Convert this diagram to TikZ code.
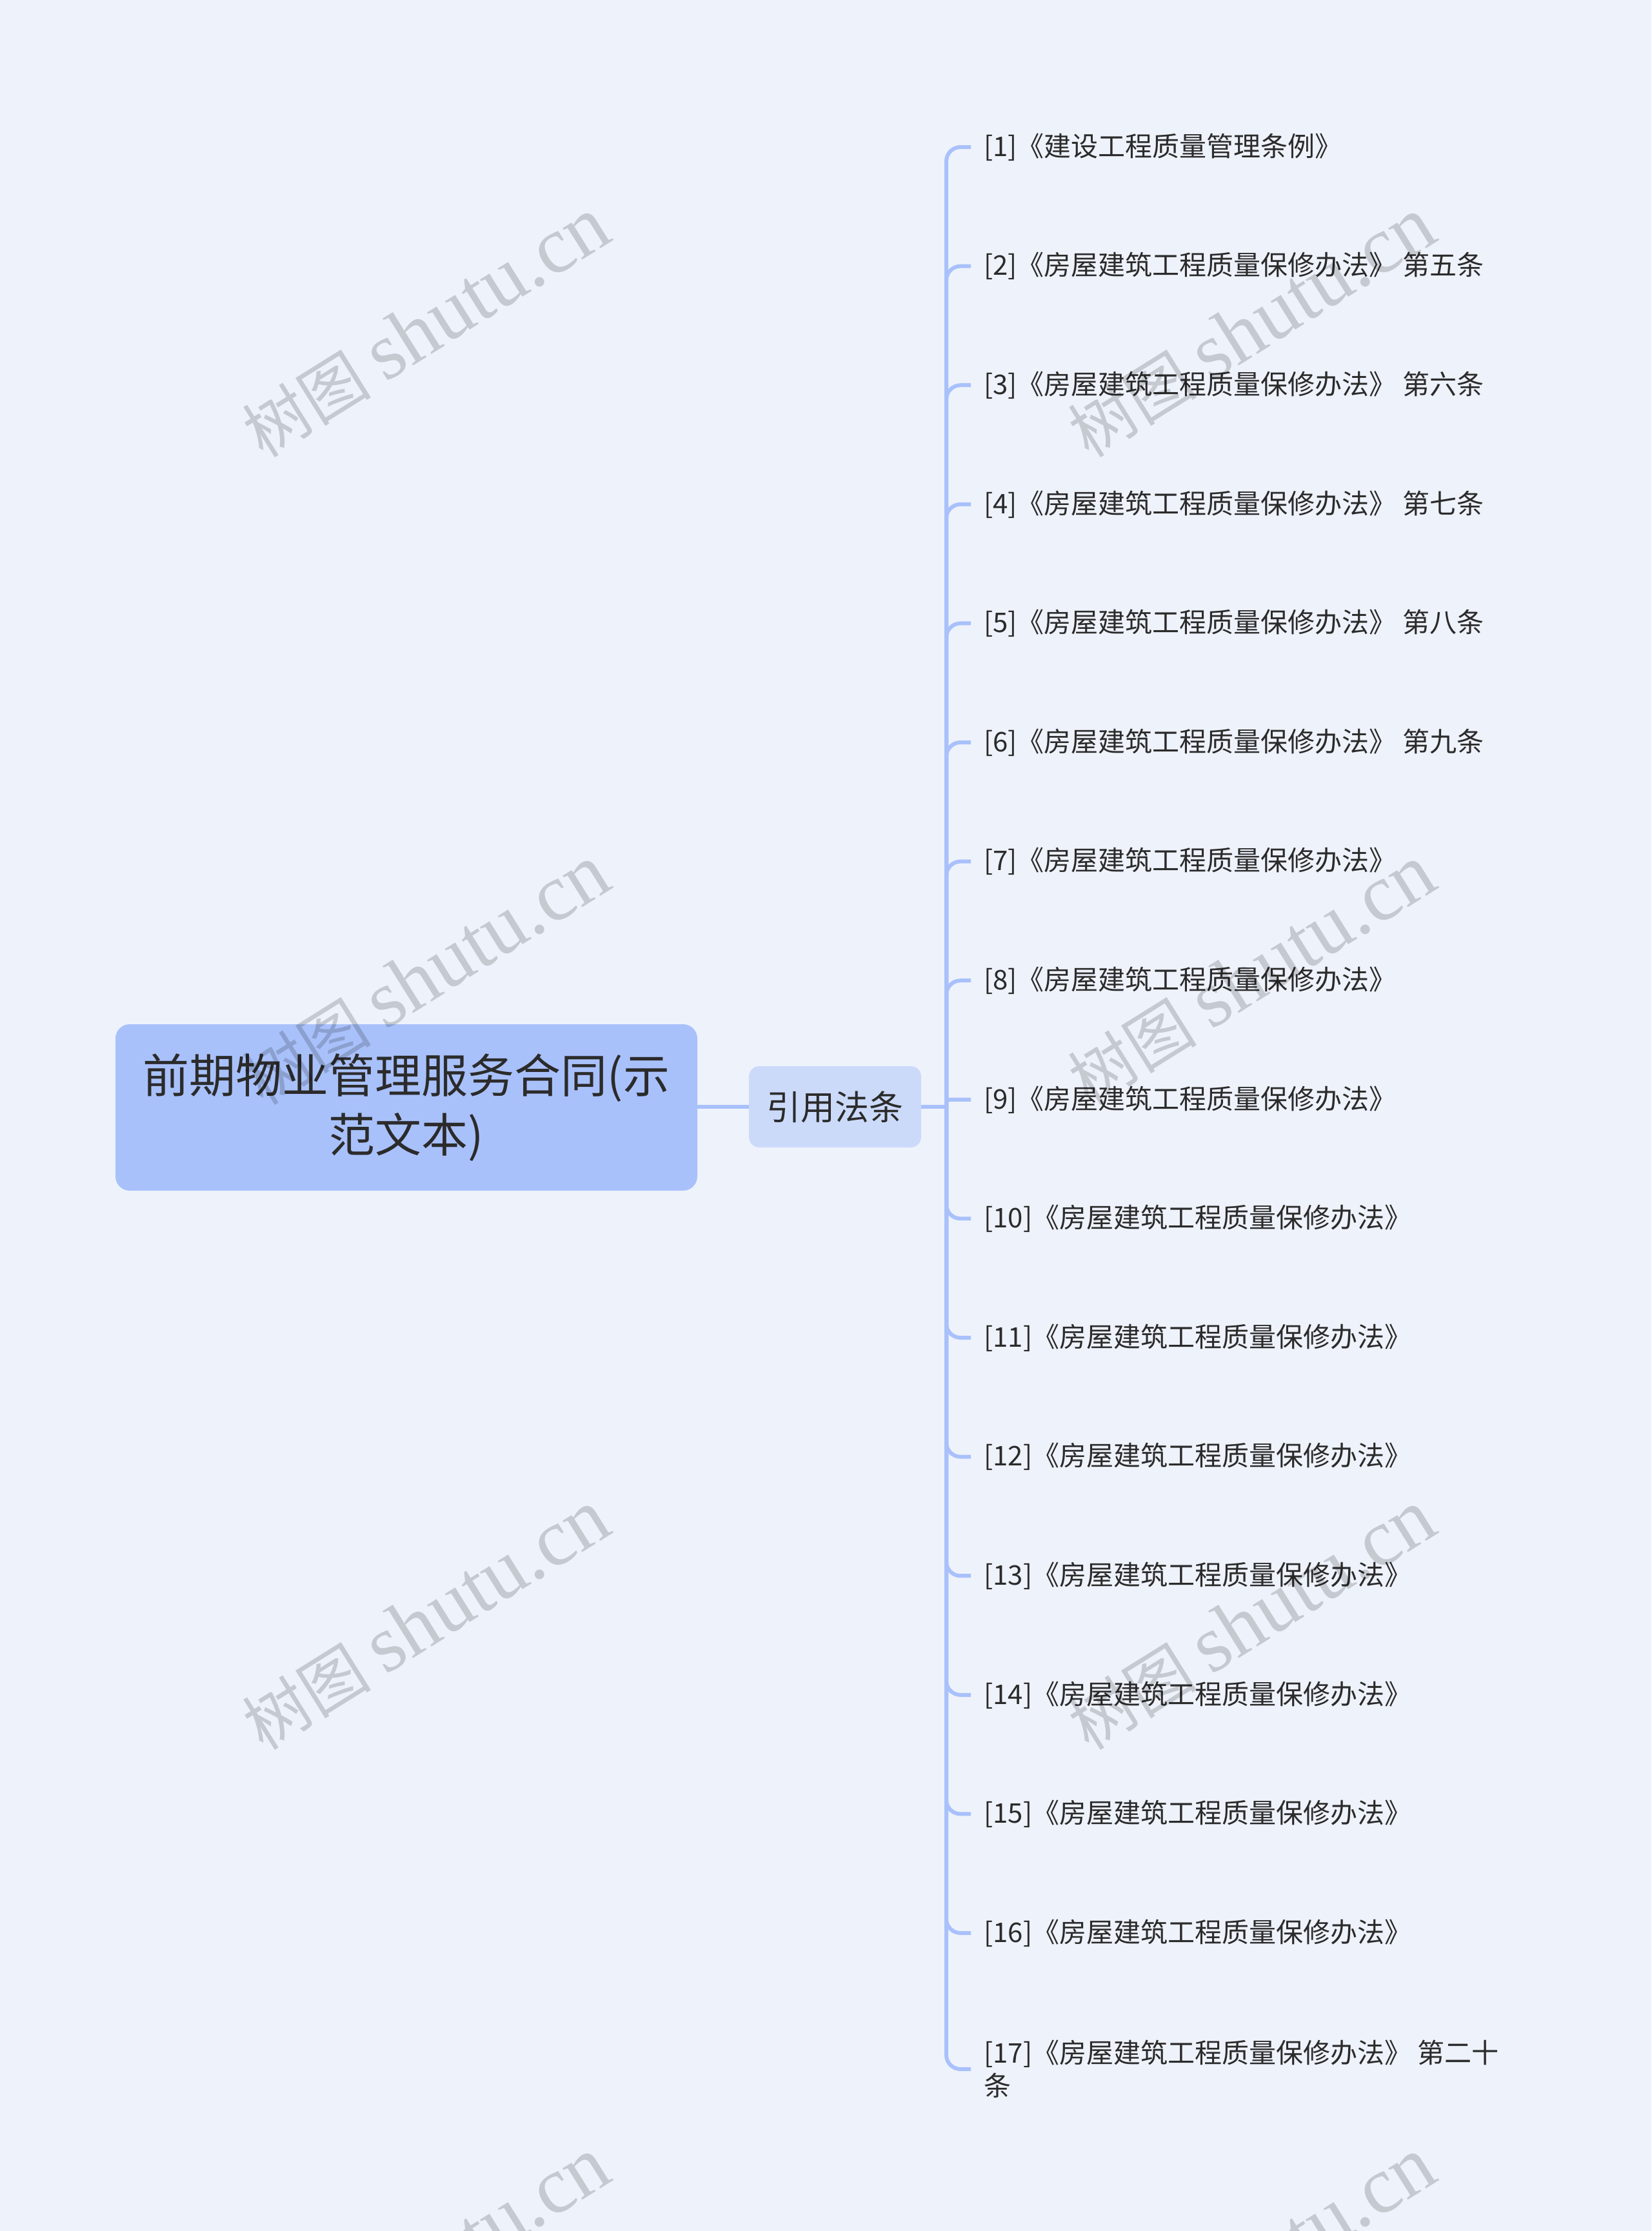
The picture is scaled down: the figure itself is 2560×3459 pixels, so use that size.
\documentclass[tikz,border=0pt]{standalone}
\usepackage{fontspec}
\setmainfont{Noto Sans CJK SC}
\newfontfamily\wmfont{Liberation Serif}
\usetikzlibrary{calc}
\definecolor{bg}{HTML}{EEF2FB}
\definecolor{rootc}{HTML}{A9C1FB}
\definecolor{midc}{HTML}{CCDAFA}
\definecolor{linec}{HTML}{A9C1FB}
\definecolor{txt}{HTML}{2B2B2B}
\begin{document}
\begin{tikzpicture}[x=1pt,y=-1pt,
  conn/.style={draw=linec,line width=6pt,rounded corners=22pt},
  connsmall/.style={draw=linec,line width=6pt,rounded corners=5pt},
  rootbox/.style={fill=rootc,rounded corners=22pt,inner sep=0pt,text=txt,align=center,
    minimum width=902pt,minimum height=258pt,font=\fontsize{72}{92}\selectfont},
  midbox/.style={fill=midc,rounded corners=16pt,inner sep=0pt,text=txt,align=center,
    minimum width=267pt,minimum height=126pt,font=\fontsize{53}{60}\selectfont},
  leaf/.style={anchor=west,inner xsep=20pt,inner ysep=4pt,text=txt,align=left,
    font=\fontsize{42}{51}\selectfont},
  wm/.style={rotate=32,text=black,text opacity=0.17,inner sep=0pt,
    font=\fontsize{100}{100}\selectfont}
]
\fill[bg] (0,0) rectangle (2560,3459);
\useasboundingbox (0,0) rectangle (2560,3459);

\node[rootbox] (root) at (630,1717) {前期物业管理服务合同(示\\范文本)};
\node[midbox] (mid) at (1294.5,1716) {引用法条};
\coordinate (jn) at (1467,1716);

\draw[conn] (root.east |- mid.west) -- (mid.west);
\draw[conn] (mid.east) -- (jn);

\node[leaf] (l1) at (1505,228) {[1]《建设工程质量管理条例》};
\node[leaf] (l2) at (1505,412.6) {[2]《房屋建筑工程质量保修办法》 第五条};
\node[leaf] (l3) at (1505,597.2) {[3]《房屋建筑工程质量保修办法》 第六条};
\node[leaf] (l4) at (1505,781.8) {[4]《房屋建筑工程质量保修办法》 第七条};
\node[leaf] (l5) at (1505,966.4) {[5]《房屋建筑工程质量保修办法》 第八条};
\node[leaf] (l6) at (1505,1151) {[6]《房屋建筑工程质量保修办法》 第九条};
\node[leaf] (l7) at (1505,1335.6) {[7]《房屋建筑工程质量保修办法》};
\node[leaf] (l8) at (1505,1520.2) {[8]《房屋建筑工程质量保修办法》};
\node[leaf] (l9) at (1505,1704.8) {[9]《房屋建筑工程质量保修办法》};
\node[leaf] (l10) at (1505,1889.4) {[10]《房屋建筑工程质量保修办法》};
\node[leaf] (l11) at (1505,2074) {[11]《房屋建筑工程质量保修办法》};
\node[leaf] (l12) at (1505,2258.6) {[12]《房屋建筑工程质量保修办法》};
\node[leaf] (l13) at (1505,2443.2) {[13]《房屋建筑工程质量保修办法》};
\node[leaf] (l14) at (1505,2627.8) {[14]《房屋建筑工程质量保修办法》};
\node[leaf] (l15) at (1505,2812.4) {[15]《房屋建筑工程质量保修办法》};
\node[leaf] (l16) at (1505,2997) {[16]《房屋建筑工程质量保修办法》};
\node[leaf] (l17) at (1505,3208) {[17]《房屋建筑工程质量保修办法》 第二十\\条};

\foreach \i in {1,2,3,4,5,6,7,8,10,11,12,13,14,15,16,17}{
  \draw[conn] (jn) |- (l\i.west);
}
\draw[connsmall] (jn) |- (l9.west);

\node[wm] (wm1) at (660,508) {树图 {\wmfont\fontsize{125}{125}\selectfont shutu.cn}};
\node[wm] (wm2) at (1940,508) {树图 {\wmfont\fontsize{125}{125}\selectfont shutu.cn}};
\node[wm] (wm3) at (660,1512) {树图 {\wmfont\fontsize{125}{125}\selectfont shutu.cn}};
\node[wm] (wm4) at (1940,1512) {树图 {\wmfont\fontsize{125}{125}\selectfont shutu.cn}};
\node[wm] (wm5) at (660,2512) {树图 {\wmfont\fontsize{125}{125}\selectfont shutu.cn}};
\node[wm] (wm6) at (1940,2512) {树图 {\wmfont\fontsize{125}{125}\selectfont shutu.cn}};
\node[wm] (wm7) at (660,3516) {树图 {\wmfont\fontsize{125}{125}\selectfont shutu.cn}};
\node[wm] (wm8) at (1940,3516) {树图 {\wmfont\fontsize{125}{125}\selectfont shutu.cn}};
\end{tikzpicture}
\end{document}
